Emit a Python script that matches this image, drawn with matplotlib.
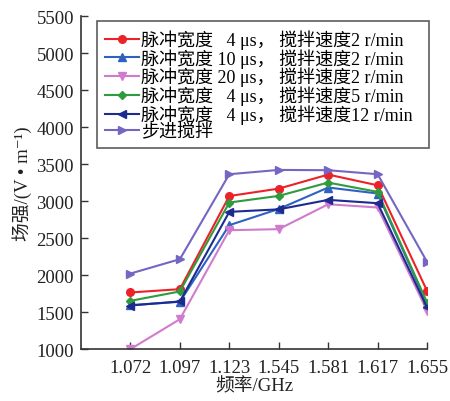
import matplotlib.pyplot as plt

plt.rcParams["font.family"] = ["Liberation Serif", "Noto Sans CJK SC", "DejaVu Sans"]

# 频率类别
freqs = ["1.072", "1.097", "1.123", "1.545", "1.581", "1.617", "1.655"]

# 各条件下的场强 (V/m)
w4_s2 = [1766, 1811, 3070, 3170, 3360, 3215, 1788]
w10_s2 = [1595, 1640, 2676, 2895, 3185, 3104, 1610]
w20_s2 = [1000, 1405, 2608, 2622, 2959, 2915, 1518]
w4_s5 = [1653, 1780, 2982, 3072, 3252, 3126, 1630]
w4_s12 = [1590, 1645, 2856, 2890, 3018, 2973, 1563]
step = [2022, 2216, 3365, 3423, 3419, 3365, 2180]

labels = [
    "脉冲宽度   4 μs， 搅拌速度2 r/min",
    "脉冲宽度 10 μs， 搅拌速度2 r/min",
    "脉冲宽度 20 μs， 搅拌速度2 r/min",
    "脉冲宽度   4 μs， 搅拌速度5 r/min",
    "脉冲宽度   4 μs， 搅拌速度12 r/min",
    "步进搅拌",
]
series = [w4_s2, w10_s2, w20_s2, w4_s5, w4_s12, step]
colors = ["#ec2228", "#2f62c0", "#cf7ccc", "#2f9b3f", "#1e2b8e", "#7466c2"]
markers = ["o", "^", "v", "D", "<", ">"]
msizes = [5.5, 5.5, 5.5, 4.5, 5.5, 5.5]

fig = plt.figure(figsize=(4.5, 4.02), dpi=100)
ax = fig.add_axes([0.18, 0.129, 0.769, 0.828])

x = list(range(len(freqs)))
for ys, lab, c, m, ms in zip(series, labels, colors, markers, msizes):
    ax.plot(x, ys, color=c, marker=m, markersize=ms, linewidth=1.5, label=lab)

ax.set_xlim(-1, 6)
ax.set_ylim(1000, 5500)
ax.set_xticks(x)
ax.set_xticklabels(freqs)
ax.set_yticks(range(1000, 5501, 500))
ax.tick_params(direction="in", labelsize=13.5, length=5, width=1, colors="#333333", labelcolor="#222222")
ax.tick_params(axis="x", pad=7)
ax.tick_params(axis="y", pad=5)
for s in ["top", "right"]:
    ax.spines[s].set_visible(False)
for s in ["left", "bottom"]:
    ax.spines[s].set_color("#333333")
    ax.spines[s].set_linewidth(1.2)

ax.set_xlabel("频率/GHz", fontsize=13.5, labelpad=1, color="#222222")
ax.set_ylabel("场强/(V • m⁻¹)", fontsize=13.5, labelpad=3, color="#222222")

# 图例框位置按原图固定（轴坐标）
leg = ax.legend(loc="upper left", bbox_to_anchor=(0.046, 0.985, 0.96, 0.0), mode="expand",
                fontsize=13, frameon=True, fancybox=False, edgecolor="#333333",
                handlelength=1.9, handletextpad=0.1, labelspacing=-0.05,
                borderpad=0.45, borderaxespad=0.0)
leg.get_frame().set_linewidth(1.2)

plt.savefig("out.png", dpi=100)
